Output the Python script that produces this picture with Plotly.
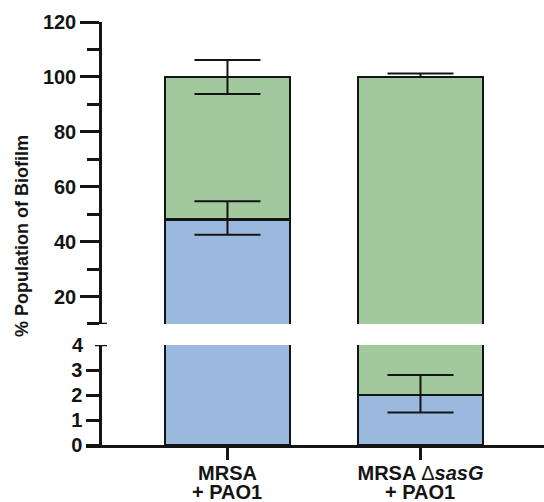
import plotly.graph_objects as go

# ---- data ----
categories = ["MRSA + PAO1", "MRSA ΔsasG + PAO1"]
label_line1 = ["MRSA", "MRSA <span style='font-weight:normal'>Δ</span><i>sasG</i>"]
label_line2 = ["+ PAO1", "+ PAO1"]
mrsa_pct = [48, 2]            # blue segment
pao1_pct = [52, 98]           # green segment (stacked on top)
mrsa_err_plus = [6.7, 0.8]
mrsa_err_minus = [5.5, 0.7]
pao1_err_plus = [6.2, 1.2]
pao1_err_minus = [6.2, 0.0]

top_ticks = [20, 40, 60, 80, 100, 120]
bottom_ticks = [0, 1, 2, 3]
bottom_top_tick = [4]

BLUE = "#9bb8de"
GREEN = "#a2c89e"
INK = "#141414"
FONT = "Liberation Sans, Arial, sans-serif"

totals = [a + b for a, b in zip(mrsa_pct, pao1_pct)]

fig = go.Figure()

for xa, ya in (("x", "y"), ("x2", "y2")):
    fig.add_trace(go.Bar(x=categories, y=mrsa_pct, marker=dict(color=BLUE, line=dict(color=INK, width=2.5)),
                         width=0.648, xaxis=xa, yaxis=ya, showlegend=False))
    fig.add_trace(go.Bar(x=categories, y=pao1_pct, marker=dict(color=GREEN, line=dict(color=INK, width=2.5)),
                         width=0.648, xaxis=xa, yaxis=ya, showlegend=False))
for xa, ya in (("x", "y"), ("x2", "y2")):
    fig.add_trace(go.Scatter(x=categories, y=mrsa_pct, mode="markers", marker=dict(size=1, opacity=0),
                             error_y=dict(type="data", array=mrsa_err_plus, arrayminus=mrsa_err_minus,
                                          color=INK, thickness=2, width=33),
                             xaxis=xa, yaxis=ya, showlegend=False, hoverinfo="skip"))
    fig.add_trace(go.Scatter(x=categories, y=totals, mode="markers", marker=dict(size=1, opacity=0),
                             error_y=dict(type="data", array=pao1_err_plus, arrayminus=pao1_err_minus,
                                          color=INK, thickness=2, width=33),
                             xaxis=xa, yaxis=ya, showlegend=False, hoverinfo="skip"))
# invisible helper so the overlaid axis carrying the "4" label is drawn
fig.add_trace(go.Scatter(x=categories, y=mrsa_pct, mode="markers", marker=dict(size=1, opacity=0),
                         xaxis="x", yaxis="y3", showlegend=False, hoverinfo="skip"))

AX_POS = 14 / 458
tickfont = dict(family=FONT, size=20, color=INK, weight="bold")

fig.update_layout(
    width=544, height=502,
    margin=dict(l=86, r=0, t=22, b=57),
    paper_bgcolor="white", plot_bgcolor="white",
    barmode="stack",
    xaxis=dict(domain=[0, 1], anchor="y", range=[-0.733, 1.640], showline=True, linewidth=2.5, linecolor=INK,
               ticks="outside", ticklen=12, tickwidth=2.5, tickcolor=INK,
               tickmode="array", tickvals=categories, ticktext=label_line1, ticklabelstandoff=-4,
               tickfont=tickfont, showgrid=False, zeroline=False, fixedrange=True),
    xaxis2=dict(domain=[0, 1], anchor="y2", matches="x", visible=False),
    yaxis=dict(domain=[0, 0.2364], anchor="free", position=AX_POS, range=[0, 4],
               showline=True, linewidth=2.5, linecolor=INK, ticks="outside", ticklen=13, tickwidth=2.5,
               tickcolor=INK, tickmode="array", tickvals=bottom_ticks, tickfont=tickfont,
               showgrid=False, zeroline=False),
    yaxis3=dict(overlaying="y", side="left", anchor="free", position=AX_POS, range=[0, 4], showline=False,
                ticks="outside", ticklen=13, tickwidth=2.5, tickcolor="rgba(0,0,0,0)",
                tickmode="array", tickvals=bottom_top_tick, tickfont=tickfont, showgrid=False, zeroline=False),
    yaxis2=dict(domain=[0.2861, 1], anchor="free", position=AX_POS, range=[10, 120],
                showline=True, linewidth=2.5, linecolor=INK, ticks="outside", ticklen=19, tickwidth=2.5,
                tickcolor=INK, tickmode="array", tickvals=top_ticks, tickfont=tickfont,
                minor=dict(ticks="outside", ticklen=12, tickwidth=2.5, tickcolor=INK, tick0=10, dtick=20),
                showgrid=False, zeroline=False),
)

# break marks on the y axis
fig.add_shape(type="line", xref="paper", xsizemode="pixel", xanchor=AX_POS, x0=-12, x1=7,
              yref="y2", y0=10, y1=10, line=dict(color=INK, width=2.5))
fig.add_shape(type="line", xref="paper", xsizemode="pixel", xanchor=AX_POS, x0=-5, x1=7,
              yref="y", y0=4, y1=4, line=dict(color=INK, width=2.5))

# second line of category labels
for cat, txt in zip(categories, label_line2):
    fig.add_annotation(x=cat, xref="x", y=-0.1115, yref="paper", yanchor="middle", text=txt,
                       showarrow=False, font=dict(family=FONT, size=20, color=INK, weight="bold"))

# y-axis title
fig.add_annotation(x=(22 - 86) / 458, xref="paper", y=(445 - 236) / 423, yref="paper",
                   text="% Population of Biofilm", textangle=-90, showarrow=False,
                   xanchor="center", yanchor="middle",
                   font=dict(family=FONT, size=18, color=INK, weight="bold"))

fig.write_html("out.html", config={"displayModeBar": False},
               post_script="document.body.style.margin='0';document.body.style.padding='0';")
